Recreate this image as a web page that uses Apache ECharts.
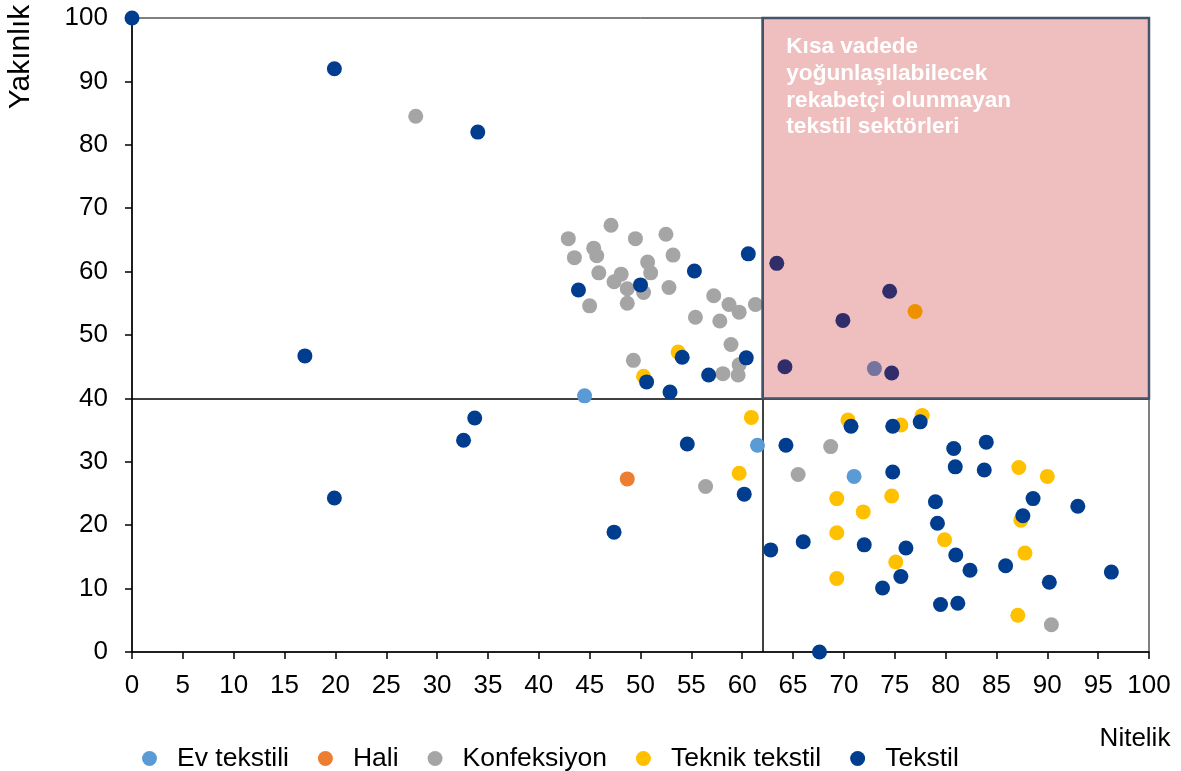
<!DOCTYPE html>
<html>
<head>
<meta charset="utf-8">
<script src="https://cdn.jsdelivr.net/npm/echarts@6/dist/echarts.min.js"></script>
<style>html,body{margin:0;padding:0;background:#fff;}#c{width:1181px;height:771px;}</style>
</head>
<body>
<div id="c"></div>
<script>
const seriesNames = ['Ev tekstili', 'Hali', 'Konfeksiyon', 'Teknik tekstil', 'Tekstil'];
const xTickValues = [0, 5, 10, 15, 20, 25, 30, 35, 40, 45, 50, 55, 60, 65, 70, 75, 80, 85, 90, 95, 100];
const yTickValues = [0, 10, 20, 30, 40, 50, 60, 70, 80, 90, 100];
const thresholdX = 62;
const thresholdY = 40;
const regionText = 'Kısa vadede\nyoğunlaşılabilecek\nrekabetçi olunmayan\ntekstil sektörleri';

const evTekstili = [[44.5, 40.4], [61.5, 32.6], [71.0, 27.7], [73.0, 44.7]];
const hali = [[48.7, 27.3]];
const konfeksiyon = [
  [27.9, 84.5], [42.9, 65.2], [47.1, 67.3], [49.5, 65.2], [52.5, 65.9], [45.4, 63.7],
  [45.7, 62.5], [43.5, 62.2], [53.2, 62.6], [50.7, 61.5], [45.9, 59.8], [51.0, 59.8],
  [48.1, 59.6], [47.4, 58.4], [48.7, 57.3], [50.3, 56.7], [52.8, 57.5], [45.0, 54.6],
  [48.7, 55.0], [57.2, 56.2], [58.7, 54.8], [59.7, 53.6], [61.3, 54.8], [55.4, 52.8],
  [57.8, 52.2], [58.9, 48.5], [59.7, 45.3], [58.1, 43.9], [59.6, 43.7], [49.3, 46.0],
  [56.4, 26.1], [65.5, 28.0], [68.7, 32.4], [90.4, 4.3]
];
const teknikTekstil = [
  [50.3, 43.5], [53.7, 47.3], [60.9, 37.0], [59.7, 28.2], [70.4, 36.6], [69.3, 24.2],
  [71.9, 22.1], [69.3, 18.8], [69.3, 11.6], [75.6, 35.8], [77.7, 37.3], [87.2, 29.1],
  [90.0, 27.7], [74.7, 24.6], [87.4, 20.8], [79.9, 17.7], [75.1, 14.2], [87.8, 15.6],
  [87.1, 5.8], [77.0, 53.7]
];
const tekstil = [
  [0, 100], [19.9, 92], [34.0, 82], [17.0, 46.7], [33.7, 36.9], [32.6, 33.4], [19.9, 24.3],
  [43.9, 57.1], [50.0, 57.9], [55.3, 60.1], [60.6, 62.8], [54.1, 46.5], [60.4, 46.4],
  [56.7, 43.7], [50.6, 42.6], [52.9, 41.0], [54.6, 32.8], [60.2, 24.9], [47.4, 18.9],
  [62.8, 16.1], [66.0, 17.4], [72.0, 16.9], [64.3, 32.6], [70.7, 35.6], [67.6, 0],
  [73.8, 10.1], [74.8, 35.6], [77.5, 36.3], [80.8, 32.1], [84.0, 33.1], [80.95, 29.2],
  [83.8, 28.7], [74.8, 28.4], [79.0, 23.7], [79.2, 20.3], [88.6, 24.2], [87.6, 21.5],
  [93.0, 23.0], [76.1, 16.4], [81.0, 15.3], [82.4, 12.9], [85.9, 13.6], [75.6, 11.9],
  [79.5, 7.5], [81.2, 7.7], [90.2, 11.0], [96.3, 12.6], [63.4, 61.3], [74.5, 56.9],
  [69.9, 52.3], [64.2, 45.0], [74.7, 44.0]
];

const seriesData = [evTekstili, hali, konfeksiyon, teknikTekstil, tekstil];
const colors = ['#5b9bd5', '#ed7d31', '#a5a5a5', '#ffc000', '#003d8e'];
const FONT = "'Liberation Sans', Arial, sans-serif";

const chart = echarts.init(document.getElementById('c'), null, { renderer: 'canvas' });

const scatterSeries = seriesNames.map((n, i) => ({
  name: n,
  type: 'scatter',
  z: 3,
  symbol: 'circle',
  symbolSize: 15,
  itemStyle: { color: colors[i], opacity: 1 },
  data: seriesData[i],
  silent: true,
  animation: false
}));

const option = {
  animation: false,
  color: colors,
  textStyle: { fontFamily: FONT },
  grid: { left: 132, right: 32, top: 18, bottom: 119, show: true, borderColor: '#000', borderWidth: 1 },
  xAxis: {
    type: 'value', min: 0, max: 100, interval: 5,
    axisLine: { show: true, lineStyle: { color: '#000', width: 1.5 } },
    axisTick: { show: true, length: 7, lineStyle: { color: '#000', width: 1.5 } },
    axisLabel: { fontSize: 26, color: '#000', margin: 21, fontFamily: FONT,
      formatter: v => xTickValues.includes(v) ? String(v) : '' },
    splitLine: { show: false }
  },
  yAxis: {
    type: 'value', min: 0, max: 100, interval: 10,
    axisLine: { show: true, lineStyle: { color: '#000', width: 1.5 } },
    axisTick: { show: true, length: 7, lineStyle: { color: '#000', width: 1.5 } },
    axisLabel: { fontSize: 26, color: '#000', margin: 24, fontFamily: FONT,
      formatter: v => yTickValues.includes(v) ? String(v) : '' },
    splitLine: { show: false }
  },
  legend: {
    data: seriesNames,
    left: 137, top: 740,
    itemWidth: 15, itemHeight: 15, itemGap: 29,
    icon: 'circle',
    textStyle: { fontSize: 26.5, color: '#000', fontFamily: FONT, padding: [0, 0, 0, 15] }
  },
  graphic: [
    { type: 'text', x: 21, y: 57, rotation: Math.PI / 2,
      style: { text: 'Yakınlık', fontSize: 30, fontFamily: FONT, fill: '#000', align: 'center', verticalAlign: 'middle' } },
    { type: 'text', x: 1135, y: 739,
      style: { text: 'Nitelik', fontSize: 26, fontFamily: FONT, fill: '#000', align: 'center', verticalAlign: 'middle' } }
  ],
  series: [
    {
      type: 'scatter', z: 1, data: [], silent: true,
      markLine: {
        z: 1, zlevel: 0,
        silent: true, symbol: 'none', animation: false,
        label: { show: false },
        lineStyle: { color: '#000', width: 1.5, type: 'solid' },
        data: [{ xAxis: thresholdX }, { yAxis: thresholdY }]
      }
    },
    ...scatterSeries,
    {
      type: 'scatter', zlevel: 1, z: 10, data: [], silent: true,
      markArea: {
        z: 10, zlevel: 1,
        silent: true, animation: false,
        itemStyle: { color: 'rgba(192,0,0,0.25)', borderColor: '#44546a', borderWidth: 2.5 },
        label: {
          show: true, position: 'insideTopLeft', distance: 5, offset: [20, 12],
          color: '#fff', fontWeight: 'bold', fontSize: 22.6, lineHeight: 26.7, fontFamily: FONT,
          formatter: () => regionText
        },
        data: [[{ xAxis: thresholdX, yAxis: thresholdY }, { xAxis: 100, yAxis: 100 }]]
      }
    }
  ]
};
chart.setOption(option);
</script>
</body>
</html>
